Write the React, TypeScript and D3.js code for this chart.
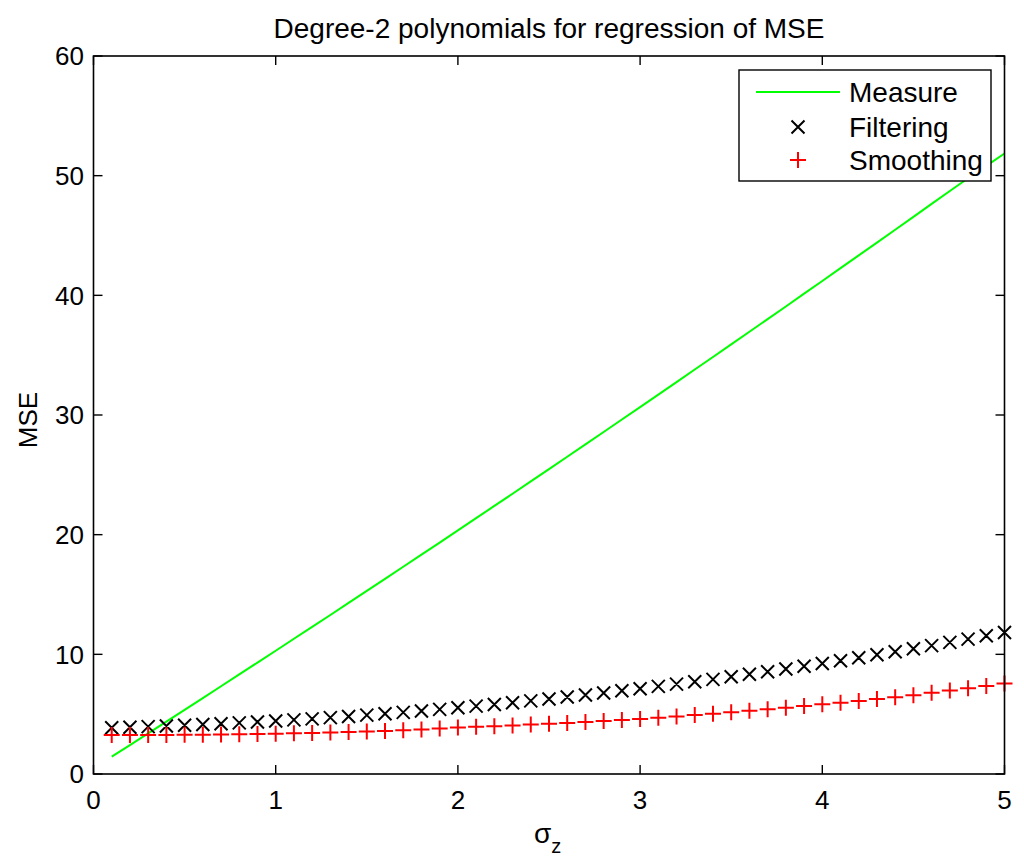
import React from "react";
import * as d3 from "d3";

const sigmaZ = [0.1,0.2,0.3,0.4,0.5,0.6,0.7,0.8,0.9,1.0,1.1,1.2,1.3,1.4,1.5,1.6,1.7,1.8,1.9,2.0,2.1,2.2,2.3,2.4,2.5,2.6,2.7,2.8,2.9,3.0,3.1,3.2,3.3,3.4,3.5,3.6,3.7,3.8,3.9,4.0,4.1,4.2,4.3,4.4,4.5,4.6,4.7,4.8,4.9,5.0];

const measure = [1.45,2.42,3.40,4.38,5.36,6.34,7.33,8.32,9.31,10.30,11.30,12.29,13.29,14.30,15.30,16.31,17.32,18.33,19.34,20.36,21.38,22.40,23.42,24.45,25.48,26.51,27.54,28.58,29.62,30.66,31.70,32.75,33.80,34.85,35.90,36.96,38.01,39.07,40.14,41.20,42.27,43.34,44.41,45.48,46.56,47.64,48.72,49.78,50.82,51.85];

const filtering = [3.87,3.91,3.96,4.01,4.07,4.13,4.20,4.27,4.35,4.43,4.52,4.61,4.71,4.81,4.92,5.03,5.15,5.27,5.40,5.53,5.67,5.81,5.96,6.11,6.27,6.43,6.60,6.77,6.95,7.13,7.32,7.51,7.71,7.91,8.12,8.33,8.55,8.77,9.00,9.23,9.47,9.71,9.96,10.21,10.47,10.73,11.00,11.27,11.55,11.83];

const smoothing = [3.26,3.25,3.25,3.26,3.27,3.28,3.30,3.32,3.34,3.37,3.40,3.43,3.47,3.51,3.55,3.60,3.66,3.72,3.80,3.88,3.94,4.00,4.06,4.13,4.20,4.27,4.35,4.43,4.51,4.60,4.70,4.81,4.92,5.04,5.16,5.28,5.41,5.54,5.68,5.82,5.96,6.11,6.26,6.42,6.58,6.78,6.97,7.16,7.36,7.56];

const xTicks = [0, 1, 2, 3, 4, 5];
const yTicks = [0, 10, 20, 30, 40, 50, 60];
const legendLabels = ["Measure", "Filtering", "Smoothing"];
const titleText = "Degree-2 polynomials for regression of MSE";

const W = 1024, H = 868;
const L = 93.5, R = 1004.5, T = 56, B = 774;
const FONT = "'Liberation Sans', Arial, Helvetica, sans-serif";
const FS_TICK = 26;
const FS_TEXT = 28;

export default function App() {
  const x = d3.scaleLinear().domain([0, 5]).range([L, R]);
  const y = d3.scaleLinear().domain([0, 60]).range([B, T]);
  const line = d3.line<number>().x((_, i) => x(sigmaZ[i])).y((d) => y(d));
  const tick = 9;
  const xs = 6.5; // x-marker half size
  const ps = 8; // plus half size

  const crossPath = (cx: number, cy: number, s: number) =>
    `M${cx - s},${cy - s}L${cx + s},${cy + s}M${cx - s},${cy + s}L${cx + s},${cy - s}`;
  const plusPath = (cx: number, cy: number, s: number) =>
    `M${cx - s},${cy}L${cx + s},${cy}M${cx},${cy - s}L${cx},${cy + s}`;

  const lgX0 = 739, lgY0 = 70, lgX1 = 991, lgY1 = 181;
  const rowY = [92, 127, 160];
  const symX = 798;
  const textX = 849;

  return (
    <svg width={W} height={H} viewBox={`0 0 ${W} ${H}`}
      style={{ position: "absolute", left: 0, top: 0, display: "block", background: "#fff" }}
      fontFamily={FONT}>
      <rect x={0} y={0} width={W} height={H} fill="#fff" />
      {/* title */}
      <text x={(L + R) / 2} y={38} textAnchor="middle" fontSize={FS_TEXT} fill="#000">{titleText}</text>

      {/* data */}
      <path d={line(measure) || ""} fill="none" stroke="#00ff00" strokeWidth={2} />
      <path d={filtering.map((v, i) => crossPath(x(sigmaZ[i]), y(v), xs)).join("")}
        fill="none" stroke="#000" strokeWidth={2} />
      <path d={smoothing.map((v, i) => plusPath(x(sigmaZ[i]), y(v), ps)).join("")}
        fill="none" stroke="#ff0000" strokeWidth={2} />

      {/* frame */}
      <rect x={L} y={T} width={R - L} height={B - T} fill="none" stroke="#000" strokeWidth={1.6} />
      {xTicks.map((t) => (
        <g key={"xt" + t}>
          <line x1={x(t)} x2={x(t)} y1={B} y2={B - tick} stroke="#000" strokeWidth={1.4} />
          <line x1={x(t)} x2={x(t)} y1={T} y2={T + tick} stroke="#000" strokeWidth={1.4} />
          <text x={x(t)} y={809} textAnchor="middle" fontSize={FS_TICK} fill="#000">{t}</text>
        </g>
      ))}
      {yTicks.map((t) => (
        <g key={"yt" + t}>
          <line x1={L} x2={L + tick} y1={y(t)} y2={y(t)} stroke="#000" strokeWidth={1.4} />
          <line x1={R} x2={R - tick} y1={y(t)} y2={y(t)} stroke="#000" strokeWidth={1.4} />
          <text x={84} y={y(t) + 9.3} textAnchor="end" fontSize={FS_TICK} fill="#000">{t}</text>
        </g>
      ))}

      {/* axis labels */}
      <text x={534} y={843} fontSize={FS_TEXT} fill="#000">
        σ<tspan fontSize={FS_TEXT - 8} dy={10}>z</tspan>
      </text>
      <text transform={`translate(37,${(T + B) / 2 + 5}) rotate(-90)`} textAnchor="middle" fontSize={FS_TICK} fill="#000">MSE</text>

      {/* legend */}
      <rect x={lgX0} y={lgY0} width={lgX1 - lgX0} height={lgY1 - lgY0} fill="#fff" stroke="#000" strokeWidth={1.4} />
      <line x1={756} x2={840} y1={rowY[0]} y2={rowY[0]} stroke="#00ff00" strokeWidth={2} />
      <path d={crossPath(symX, rowY[1], xs)} fill="none" stroke="#000" strokeWidth={2} />
      <path d={plusPath(symX, rowY[2], ps)} fill="none" stroke="#ff0000" strokeWidth={2} />
      {legendLabels.map((lab, i) => (
        <text key={lab} x={textX} y={rowY[i] + 10} fontSize={FS_TEXT} fill="#000">{lab}</text>
      ))}
    </svg>
  );
}
